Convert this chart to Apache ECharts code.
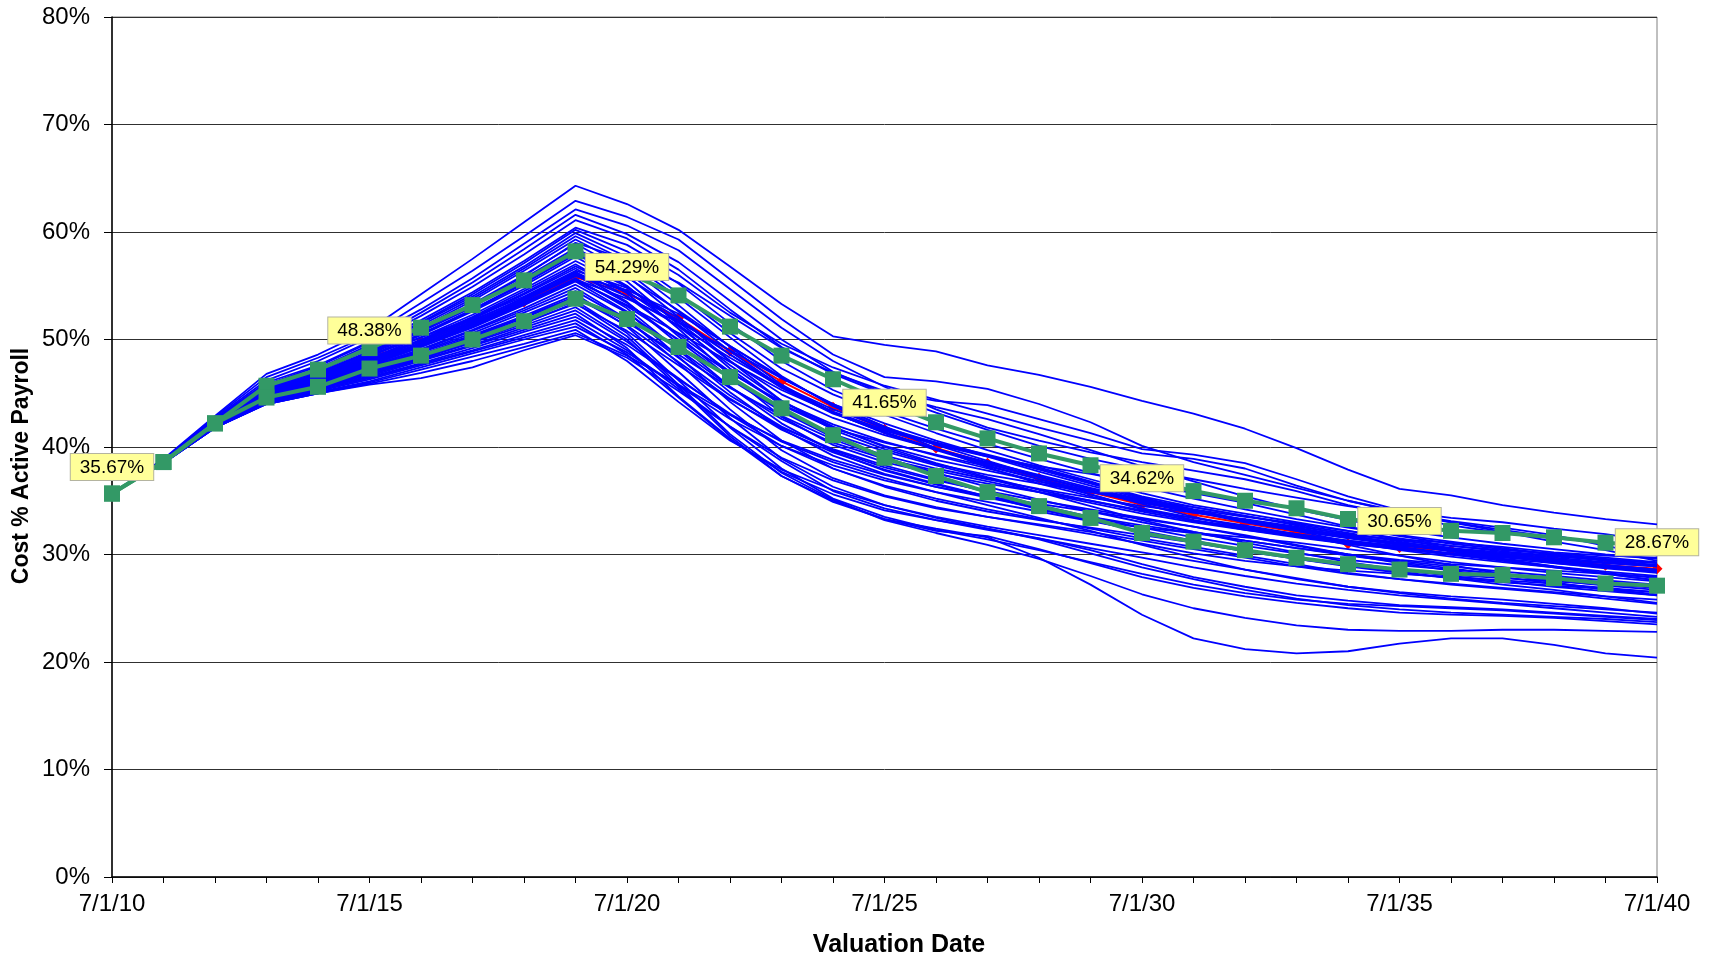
<!DOCTYPE html>
<html>
<head>
<meta charset="utf-8">
<title>Cost % Active Payroll</title>
<script src="https://cdn.jsdelivr.net/npm/echarts@6/dist/echarts.min.js"></script>
<style>
  html, body { margin: 0; padding: 0; background: #ffffff; }
  #chart { width: 1709px; height: 956px; }
</style>
</head>
<body>
<div id="chart"></div>
<script>
// Valuation dates, one per year
const valuationDates = [
  '7/1/10','7/1/11','7/1/12','7/1/13','7/1/14','7/1/15','7/1/16','7/1/17','7/1/18','7/1/19',
  '7/1/20','7/1/21','7/1/22','7/1/23','7/1/24','7/1/25','7/1/26','7/1/27','7/1/28','7/1/29',
  '7/1/30','7/1/31','7/1/32','7/1/33','7/1/34','7/1/35','7/1/36','7/1/37','7/1/38','7/1/39','7/1/40'
];

// Median cost path (percent of active payroll)
const median = [35.67,38.6,42.2,45.1,46.4,48.38,49.8,51.6,53.5,55.8,54.29,52.0,48.9,46.1,43.7,41.65,39.9,38.5,37.1,35.8,34.62,33.7,32.9,32.1,31.0,30.65,30.4,30.0,29.6,29.0,28.67];

// Upper and lower percentile paths
const upperPct = [35.67,38.6,42.2,45.7,47.2,49.2,51.1,53.2,55.5,58.2,56.2,54.1,51.2,48.5,46.3,44.2,42.3,40.8,39.4,38.3,37.1,35.9,35.0,34.3,33.3,32.7,32.2,32.0,31.6,31.1,30.8];
const lowerPct = [35.67,38.6,42.2,44.6,45.6,47.3,48.5,50.0,51.7,53.8,51.9,49.3,46.5,43.6,41.1,39.0,37.3,35.8,34.5,33.4,32.0,31.2,30.4,29.7,29.1,28.6,28.2,28.1,27.8,27.3,27.1];

// Years whose median value is annotated
const labelYears = [0, 5, 10, 15, 20, 25, 30];

// Individual stochastic scenarios
const scenarios = [
  [35.67,38.9,42.9,46.8,48.6,50.9,54.2,57.5,60.9,64.3,62.6,60.2,56.8,53.3,50.3,49.5,48.9,47.6,46.7,45.6,44.3,43.1,41.7,39.9,37.9,36.1,35.5,34.6,33.9,33.3,32.8],
  [35.67,38.8,42.8,46.5,48.3,50.4,53.4,56.4,59.6,62.9,61.4,59.3,55.6,51.9,48.6,46.5,46.1,45.4,44.0,42.3,40.1,38.6,37.4,36.2,35.0,34.0,33.4,33.0,32.4,31.9,31.2],
  [35.67,38.8,42.7,46.2,48.0,50.2,52.8,55.7,58.9,62.1,60.6,58.3,54.7,51.1,48.0,45.6,43.5,41.8,40.6,39.5,38.6,37.8,37.0,35.9,34.6,33.6,32.7,32.0,31.5,31.1,30.5],
  [35.67,38.8,42.6,46.0,47.6,49.8,52.5,55.3,58.4,61.6,59.8,57.2,53.6,50.0,47.0,45.0,43.7,42.6,41.2,39.7,38.2,36.8,35.4,34.2,33.2,32.3,31.6,31.0,30.5,30.0,29.6],
  [35.67,38.7,42.6,45.8,47.5,49.7,52.2,54.9,57.9,61.1,59.4,56.5,52.8,49.3,46.8,44.9,43.2,41.6,40.1,38.9,37.9,37.0,36.1,35.3,34.5,33.8,33.0,32.1,31.2,30.4,29.4],
  [35.67,38.7,42.5,45.7,47.3,49.5,51.8,54.4,57.3,60.4,58.8,56.0,52.5,49.6,47.4,45.7,44.4,43.1,41.8,40.6,39.4,38.9,38.0,36.4,35.0,33.9,33.1,32.5,31.8,30.8,29.9],
  [35.67,38.7,42.5,45.6,47.2,49.3,51.6,54.2,57.1,60.2,58.2,55.2,51.5,48.0,45.3,43.3,41.7,40.3,38.9,37.6,36.3,35.2,34.2,33.3,32.5,31.8,31.2,30.6,30.0,29.5,29.0],
  [35.67,38.7,42.5,45.5,47.1,49.2,51.5,54.0,56.8,59.9,57.7,54.3,50.6,47.3,44.9,43.0,41.3,39.7,38.3,37.0,35.7,34.6,33.8,33.0,32.2,31.4,30.6,29.9,29.2,28.7,28.3],
  [35.67,38.7,42.4,45.4,47.0,49.1,51.3,53.8,56.6,59.6,57.3,53.9,50.2,46.6,43.8,41.7,40.2,39.1,38.2,37.5,36.6,35.7,34.8,33.7,32.6,31.7,31.0,30.5,30.0,29.6,29.2],
  [35.67,38.7,42.4,45.3,46.9,48.9,51.1,53.6,56.4,59.3,56.8,53.2,49.3,45.8,43.2,41.3,39.8,38.5,37.2,36.0,34.8,33.9,33.2,32.5,31.7,31.0,30.3,29.6,28.9,28.2,27.6],
  [35.67,38.7,42.4,45.3,46.8,48.8,50.9,53.3,56.0,58.9,56.3,52.6,48.9,45.6,43.3,41.6,40.4,39.3,38.1,36.8,35.3,34.1,33.1,32.3,31.8,31.4,31.1,30.7,30.2,29.9,29.7],
  [35.67,38.7,42.3,45.2,46.7,48.6,50.7,53.0,55.7,58.5,55.9,52.1,48.0,44.3,41.6,39.8,38.4,37.4,36.6,35.8,34.9,34.1,33.2,32.2,31.2,30.4,29.8,29.3,28.8,28.2,27.6],
  [35.67,38.7,42.3,45.1,46.6,48.5,50.5,52.8,55.3,58.1,55.4,51.4,47.3,43.9,41.7,40.4,39.3,38.2,37.0,35.6,34.2,33.2,32.5,31.9,31.3,30.7,30.1,29.5,28.9,28.4,28.0],
  [35.67,38.7,42.3,45.1,46.5,48.4,50.4,52.6,55.0,57.7,55.0,51.0,46.7,42.8,40.2,38.6,37.5,36.6,35.8,35.0,34.1,33.4,32.7,31.9,30.9,29.9,29.0,28.2,27.4,26.7,26.2],
  [35.67,38.6,42.3,45.0,46.4,48.2,50.2,52.3,54.7,57.3,54.9,51.6,48.0,44.9,42.7,41.1,39.8,38.6,37.4,36.2,35.1,34.2,33.5,32.9,32.2,31.5,30.8,30.3,29.9,29.4,28.9],
  [35.67,38.6,42.2,44.9,46.3,48.1,50.0,52.1,54.5,57.0,54.3,50.3,46.4,43.4,41.2,39.6,38.3,37.1,35.8,34.5,33.2,32.1,31.1,30.2,29.3,28.6,28.0,27.5,27.0,26.6,26.2],
  [35.67,38.6,42.2,44.9,46.2,48.0,49.9,51.9,54.2,56.6,54.0,50.5,47.0,44.0,41.8,40.1,38.8,37.8,36.8,35.9,35.1,34.4,33.6,32.7,31.8,31.0,30.3,29.8,29.3,28.9,28.5],
  [35.67,38.6,42.2,44.8,46.2,47.9,49.7,51.7,53.9,56.3,53.5,49.6,45.6,42.2,39.6,37.8,36.5,35.4,34.4,33.5,32.7,32.0,31.3,30.6,29.9,29.3,28.7,28.1,27.6,27.1,26.7],
  [35.67,38.6,42.2,44.8,46.1,47.8,49.6,51.5,53.7,56.0,53.4,49.9,46.3,43.3,40.9,39.2,38.0,37.0,36.1,35.3,34.5,33.9,33.3,32.6,31.9,31.3,30.8,30.4,30.1,29.7,29.3],
  [35.67,38.6,42.1,44.7,46.0,47.7,49.4,51.3,53.4,55.7,52.9,49.0,45.1,41.7,39.2,37.5,36.3,35.4,34.7,34.0,33.3,32.6,31.8,30.9,30.0,29.2,28.5,27.9,27.3,26.8,26.3],
  [35.67,38.6,42.1,44.7,46.0,47.6,49.3,51.1,53.2,55.4,52.6,48.4,44.2,40.6,38.0,36.3,35.0,34.0,33.2,32.5,31.8,31.1,30.4,29.7,29.0,28.4,27.8,27.2,26.7,26.1,25.5],
  [35.67,38.6,42.1,44.6,45.9,47.5,49.1,50.9,52.9,55.1,52.5,49.1,45.6,42.6,40.4,38.9,37.8,36.8,35.8,34.8,33.8,33.0,32.3,31.7,31.1,30.6,30.1,29.7,29.4,29.0,28.6],
  [35.67,38.6,42.1,44.6,45.8,47.4,49.0,50.8,52.7,54.8,51.9,47.8,43.5,39.7,37.1,35.5,34.4,33.5,32.8,32.1,31.3,30.5,29.7,28.9,28.2,27.7,27.3,26.9,26.5,26.1,25.8],
  [35.67,38.6,42.0,44.5,45.8,47.3,48.9,50.6,52.5,54.5,51.8,48.3,44.8,41.9,39.7,38.1,36.9,35.9,35.0,34.2,33.4,32.6,31.7,30.8,30.0,29.5,29.1,28.8,28.5,28.2,27.9],
  [35.67,38.6,42.0,44.5,45.7,47.2,48.8,50.4,52.2,54.2,51.2,47.0,42.7,38.9,36.3,34.6,33.4,32.4,31.5,30.6,29.7,28.8,28.0,27.3,26.7,26.2,25.8,25.4,25.0,24.6,24.2],
  [35.67,38.6,42.0,44.4,45.7,47.1,48.6,50.2,52.0,53.9,51.3,47.9,44.5,41.6,39.5,37.9,36.6,35.4,34.2,33.2,32.5,32.0,31.6,31.1,30.5,29.9,29.3,28.8,28.3,27.9,27.5],
  [35.67,38.6,42.0,44.4,45.6,47.0,48.5,50.1,51.8,53.6,50.6,46.2,41.8,38.0,35.2,33.5,32.3,31.4,30.4,29.3,28.2,27.2,26.4,25.8,25.4,25.2,25.0,24.8,24.5,24.2,23.9],
  [35.67,38.6,41.9,44.3,45.6,46.9,48.4,49.9,51.6,53.3,50.8,47.6,44.4,41.8,39.8,38.3,37.0,35.8,34.6,33.5,32.5,31.6,30.8,30.1,29.5,29.0,28.6,28.2,27.8,27.4,27.0],
  [35.67,38.6,41.9,44.3,45.5,46.8,48.2,49.7,51.3,53.0,50.0,45.6,41.0,37.3,34.9,33.3,32.2,31.7,30.5,29.2,27.9,26.9,26.1,25.5,25.0,24.6,24.4,24.3,24.1,23.8,23.5],
  [35.67,38.6,41.9,44.3,45.5,46.7,48.1,49.5,51.1,52.7,49.8,46.4,43.0,40.1,38.0,36.4,35.2,34.2,33.3,32.4,31.5,30.7,29.9,29.1,28.3,27.7,27.2,26.8,26.4,25.9,25.4],
  [35.67,38.6,41.9,44.2,45.4,46.6,48.0,49.4,50.9,52.4,49.2,44.7,40.8,37.3,35.0,33.3,32.4,31.6,29.7,27.2,24.4,22.2,21.2,20.8,21.0,21.7,22.2,22.2,21.6,20.8,20.4],
  [35.67,38.5,41.9,44.2,45.4,46.5,47.8,49.2,50.7,52.1,49.5,46.3,43.1,40.5,38.6,37.1,35.8,34.6,33.4,32.2,30.9,29.7,28.6,27.7,27.0,26.5,26.1,25.8,25.4,25.0,24.5],
  [35.67,38.5,41.9,44.1,45.3,46.4,47.7,49.0,50.4,51.8,49.0,45.4,41.9,39.0,36.9,35.4,34.3,33.5,32.7,31.9,31.0,30.1,29.4,28.9,28.5,28.2,27.9,27.6,27.3,26.9,26.5],
  [35.67,38.5,41.8,44.1,45.2,46.3,47.6,48.9,50.2,51.5,48.6,44.6,40.7,37.7,35.6,34.1,33.2,32.4,31.4,30.1,28.8,27.7,26.7,25.9,25.3,24.9,24.6,24.4,24.2,24.0,23.7],
  [35.67,38.5,41.8,44.1,45.1,46.1,47.4,48.7,50.0,51.2,48.8,45.7,42.6,40.1,38.3,36.9,35.8,34.9,34.0,33.1,32.2,31.3,30.4,29.6,28.9,28.3,27.8,27.4,27.1,26.8,26.5],
  [35.67,38.5,41.8,44.0,45.0,46.0,47.2,48.4,49.6,50.9,48.0,44.2,40.6,37.9,36.0,34.6,33.5,32.6,31.8,31.0,30.2,29.4,28.6,27.8,27.0,26.4,25.9,25.5,25.2,24.9,24.6],
  [35.67,38.5,41.8,44.0,45.0,45.9,46.9,48.0,49.3,50.6,48.5,45.8,43.0,40.6,38.8,37.4,36.3,35.3,34.3,33.2,32.1,31.1,30.3,29.6,29.0,28.5,28.1,27.8,27.5,27.2,26.9],
  [35.67,38.5,41.8,44.0,45.0,45.8,46.4,47.4,49.0,50.4,48.3,45.2,41.9,38.7,35.9,34.3,33.2,32.3,31.5,30.4,29.1,27.9,27.0,26.2,25.7,25.3,25.1,24.9,24.6,24.3,24.0],
  [35.67,38.7,42.3,45.2,46.6,48.4,50.5,52.7,55.2,57.9,55.8,52.7,49.4,46.4,44.0,42.2,40.6,39.2,37.9,36.6,35.3,34.2,33.2,32.4,31.7,31.1,30.6,30.2,29.8,29.5,29.2],
  [35.67,38.6,42.2,44.9,46.3,48.0,49.9,52.0,54.3,56.8,54.5,51.2,47.6,44.3,41.9,40.0,38.5,37.2,36.0,35.0,34.0,33.1,32.4,31.8,31.2,30.6,30.0,29.4,28.8,28.3,27.8],
  [35.67,38.6,42.1,44.7,46.0,47.6,49.3,51.2,53.3,55.5,53.1,50.0,46.9,44.2,42.1,40.5,39.2,38.0,36.8,35.6,34.3,33.2,32.3,31.6,31.0,30.5,30.1,29.8,29.5,29.2,28.9],
  [35.67,38.6,42.0,44.5,45.7,47.1,48.6,50.3,52.1,54.0,51.6,48.6,45.5,42.9,40.7,39.0,37.6,36.3,35.1,34.0,33.0,32.1,31.3,30.6,30.0,29.4,28.9,28.4,28.0,27.6,27.2],
  [35.67,38.7,42.4,45.3,46.8,48.7,50.8,53.2,55.9,59.0,57.4,55.3,52.2,49.2,46.9,45.2,44.3,43.9,42.6,41.3,39.8,39.3,38.5,37.0,35.4,34.1,33.0,32.3,31.6,31.1,30.6],
  [35.67,38.6,41.9,44.3,45.5,46.8,48.3,49.8,51.5,53.4,50.3,45.8,41.2,37.6,35.1,33.2,32.0,30.9,29.6,28.0,26.3,25.0,24.1,23.4,23.0,22.9,22.9,23.0,23.0,22.9,22.8],
  [35.67,38.6,42.2,45.0,46.3,48.3,49.9,51.8,53.8,56.1,54.0,51.3,48.3,45.6,43.2,41.3,39.7,38.3,37.0,35.9,34.9,34.0,33.2,32.4,31.6,30.9,30.4,29.9,29.4,29.0,28.6],
  [35.67,38.6,42.2,44.9,46.2,48.1,49.6,51.4,53.6,55.9,54.6,52.4,49.4,46.5,43.9,41.9,40.2,38.7,37.3,36.0,34.7,33.5,32.5,31.7,31.0,30.5,30.0,29.6,29.2,28.8,28.4],
  [35.67,38.7,42.3,45.2,46.5,48.5,50.2,52.0,54.0,56.4,54.8,52.0,48.6,45.5,43.1,41.5,40.3,39.2,38.0,36.7,35.4,34.4,33.6,32.8,32.0,31.2,30.5,29.9,29.3,28.8,28.4],
  [35.67,38.6,42.1,44.8,46.1,47.9,49.5,51.3,53.3,55.6,53.8,51.6,49.0,46.4,44.0,41.9,39.9,38.1,36.6,35.4,34.3,33.4,32.6,31.9,31.3,30.8,30.4,30.0,29.6,29.2,28.9],
  [35.67,38.6,42.2,45.0,46.4,48.2,49.8,51.6,53.7,56.2,54.4,51.8,48.6,45.7,43.5,41.8,40.4,39.1,37.7,36.4,35.2,34.0,33.0,32.2,31.5,30.9,30.5,30.1,29.7,29.3,29.0],
  [35.67,38.6,42.1,44.8,46.2,47.8,49.5,51.4,53.5,55.5,53.2,50.6,47.9,45.3,43.2,41.4,39.8,38.4,37.2,36.1,35.0,34.0,33.1,32.3,31.6,31.0,30.4,29.9,29.4,28.9,28.5]
];

const FONT = '"Liberation Sans", Arial, sans-serif';
const chart = echarts.init(document.getElementById('chart'), null, { renderer: 'canvas' });

const series = [];

// Median path sits underneath the scenario bundle
series.push({
  type: 'line',
  name: 'Median',
  data: median,
  z: 1,
  silent: true,
  symbol: 'diamond',
  symbolSize: 11,
  itemStyle: { color: '#FF0000' },
  lineStyle: { color: '#FF0000', width: 2 },
  emphasis: { disabled: true }
});

scenarios.forEach(function (s, i) {
  series.push({
    type: 'line',
    name: 'Scenario ' + (i + 1),
    data: s,
    z: 2,
    silent: true,
    showSymbol: false,
    symbol: 'none',
    lineStyle: { color: '#0000FF', width: 1.8 },
    emphasis: { disabled: true }
  });
});

[upperPct, lowerPct].forEach(function (s, i) {
  series.push({
    type: 'line',
    name: i === 0 ? 'Upper percentile' : 'Lower percentile',
    data: s,
    z: 3,
    silent: true,
    symbol: 'rect',
    symbolSize: 16,
    itemStyle: { color: '#339966' },
    lineStyle: { color: '#339966', width: 4 },
    emphasis: { disabled: true }
  });
});

// Value callouts for the median at five-year steps
series.push({
  type: 'scatter',
  name: 'Median labels',
  z: 10,
  silent: true,
  symbol: 'rect',
  symbolSize: 1,
  itemStyle: { color: 'rgba(0,0,0,0)', opacity: 1 },
  data: labelYears.map(function (i) { return [valuationDates[i], median[i]]; }),
  label: {
    show: true,
    position: 'top',
    distance: 13,
    opacity: 1,
    formatter: function (p) { return p.value[1].toFixed(2) + '%'; },
    fontFamily: FONT,
    fontSize: 19,
    color: '#000000',
    backgroundColor: '#FFFF99',
    borderColor: '#B4B4A0',
    borderWidth: 1,
    padding: [4, 9, 3, 9]
  },
  emphasis: { disabled: true }
});

chart.setOption({
  animation: false,
  backgroundColor: '#ffffff',
  grid: {
    left: 112, right: 52, top: 17, bottom: 79,
    show: true, borderColor: '#808080', borderWidth: 1
  },
  xAxis: {
    type: 'category',
    data: valuationDates,
    boundaryGap: false,
    axisLine: { show: true, lineStyle: { color: '#000000', width: 1.5 } },
    axisTick: { show: true, interval: 0, length: 6, lineStyle: { color: '#000000' } },
    axisLabel: {
      interval: 4, margin: 15,
      fontFamily: FONT, fontSize: 24, color: '#000000'
    },
    splitLine: { show: false }
  },
  yAxis: {
    type: 'value',
    min: 0, max: 80, interval: 10,
    axisLine: { show: true, lineStyle: { color: '#000000', width: 1.5 } },
    axisTick: { show: true, length: 8, lineStyle: { color: '#000000' } },
    axisLabel: {
      margin: 22,
      formatter: '{value}%',
      fontFamily: FONT, fontSize: 24, color: '#000000'
    },
    splitLine: { show: true, lineStyle: { color: '#303030', width: 1 } }
  },
  graphic: [
    {
      type: 'text',
      x: 22, y: 466,
      rotation: Math.PI / 2,
      style: {
        text: 'Cost % Active Payroll',
        fontFamily: FONT, fontWeight: 'bold', fontSize: 23,
        fill: '#000000', align: 'center', verticalAlign: 'middle'
      }
    },
    {
      type: 'text',
      x: 899, y: 945,
      style: {
        text: 'Valuation Date',
        fontFamily: FONT, fontWeight: 'bold', fontSize: 25,
        fill: '#000000', align: 'center', verticalAlign: 'middle'
      }
    }
  ],
  series: series
});
</script>
</body>
</html>
